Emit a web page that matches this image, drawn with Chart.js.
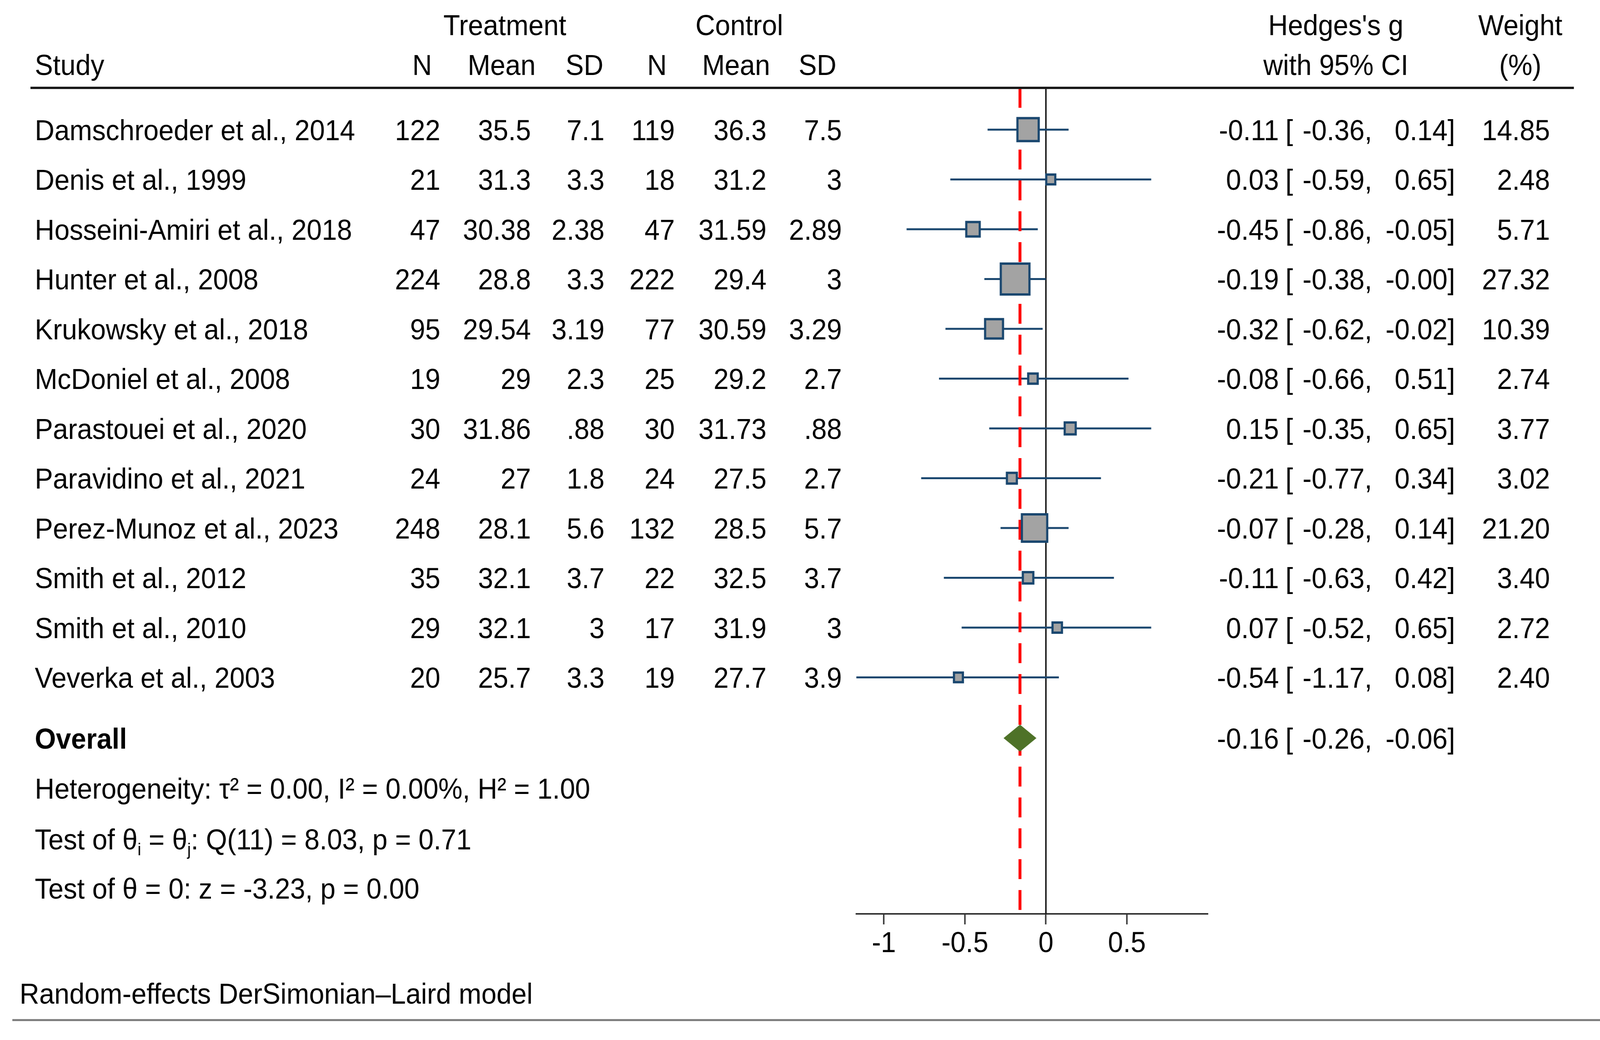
<!DOCTYPE html>
<html><head><meta charset="utf-8">
<script src="https://cdn.jsdelivr.net/npm/chart.js@4.4.1/dist/chart.umd.min.js"></script>
<style>html,body{margin:0;padding:0;background:#fff;overflow:hidden}canvas{display:block}</style>
</head><body>
<canvas id="c" width="4415" height="2663"></canvas>
<script>
// ---------- data ----------
const studies = ["Damschroeder et al., 2014","Denis et al., 1999","Hosseini-Amiri et al., 2018","Hunter et al., 2008",
  "Krukowsky et al., 2018","McDoniel et al., 2008","Parastouei et al., 2020","Paravidino et al., 2021",
  "Perez-Munoz et al., 2023","Smith et al., 2012","Smith et al., 2010","Veverka et al., 2003"];
const treatN    = [122, 21, 47, 224, 95, 19, 30, 24, 248, 35, 29, 20];
const treatMean = [35.5, 31.3, 30.38, 28.8, 29.54, 29, 31.86, 27, 28.1, 32.1, 32.1, 25.7];
const treatSD   = [7.1, 3.3, 2.38, 3.3, 3.19, 2.3, 0.88, 1.8, 5.6, 3.7, 3, 3.3];
const ctrlN     = [119, 18, 47, 222, 77, 25, 30, 24, 132, 22, 17, 19];
const ctrlMean  = [36.3, 31.2, 31.59, 29.4, 30.59, 29.2, 31.73, 27.5, 28.5, 32.5, 31.9, 27.7];
const ctrlSD    = [7.5, 3, 2.89, 3, 3.29, 2.7, 0.88, 2.7, 5.7, 3.7, 3, 3.9];
const hedgesG   = [-0.11, 0.03, -0.45, -0.19, -0.32, -0.08, 0.15, -0.21, -0.07, -0.11, 0.07, -0.54];
const ciLow     = [-0.36, -0.59, -0.86, -0.38, -0.62, -0.66, -0.35, -0.77, -0.28, -0.63, -0.52, -1.17];
const ciHigh    = [0.14, 0.65, -0.05, -0.00, -0.02, 0.51, 0.65, 0.34, 0.14, 0.42, 0.65, 0.08];
const weights   = [14.85, 2.48, 5.71, 27.32, 10.39, 2.74, 3.77, 3.02, 21.20, 3.40, 2.72, 2.40];
const overallG = -0.16, overallLow = -0.26, overallHigh = -0.06;
const xTicks = [-1, -0.5, 0, 0.5];
const xTickLabels = ["-1", "-0.5", "0", "0.5"];
const statLines = [
  [{t:"Heterogeneity: \u03C4\u00B2 = 0.00, I\u00B2 = 0.00%, H\u00B2 = 1.00"}],
  [{t:"Test of \u03B8"},{t:"i",sub:true},{t:" = \u03B8"},{t:"j",sub:true},{t:": Q(11) = 8.03, p = 0.71"}],
  [{t:"Test of \u03B8 = 0: z = -3.23, p = 0.00"}]
];
const footnote = "Random-effects DerSimonian\u2013Laird model";

// ---------- layout / style ----------
const W = 4415, H = 2663;
const FONT = '"Liberation Sans", Arial, Helvetica, sans-serif';
const FS = 75;
const NAVY = '#1a476f', BOXFILL = '#a3a3a3', GREEN = '#4e7228', RED = '#ff0000';
const ROW_OVERALL = 13.22, ROW_STATS = [14.22, 15.24, 16.23], ROW_FOOT = 18.34;
const ROW_H1 = -1.11, ROW_H2 = -0.31;
const Y_MIN = 0.161, Y_MAX = 16.749;

// display the fixed 4415x2663 drawing over the whole viewport
const cv = document.getElementById('c');
cv.style.width = (window.innerWidth || W) + 'px';
cv.style.height = (window.innerHeight || H) + 'px';

function fmt2(v){ return (v < 0 || Object.is(v, -0)) ? '-' + Math.abs(v).toFixed(2) : v.toFixed(2); }
function fmtNum(v){ return String(v).replace(/^0\./, '.'); }

const datasets = [];
// study markers
datasets.push({
  type: 'scatter', order: 0,
  data: hedgesG.map((v, i) => ({x: v, y: i + 1})),
  pointStyle: 'rect',
  pointRadius: weights.map(w => 1.2 + 10.47 * Math.sqrt(w)),
  pointHoverRadius: weights.map(w => 1.2 + 10.47 * Math.sqrt(w)),
  backgroundColor: BOXFILL, borderColor: NAVY, borderWidth: 6, pointBorderWidth: 6
});
// overall diamond
const dh = 0.267;
datasets.push({
  type: 'line', order: 1,
  data: [{x: overallLow, y: ROW_OVERALL}, {x: overallG, y: ROW_OVERALL - dh}, {x: overallHigh, y: ROW_OVERALL},
         {x: overallG, y: ROW_OVERALL + dh}, {x: overallLow, y: ROW_OVERALL}],
  borderColor: GREEN, backgroundColor: GREEN, borderWidth: 1, fill: 'shape', pointRadius: 0, tension: 0
});
// red dashed overall line
datasets.push({
  type: 'line', order: 2,
  data: [{x: overallG, y: Y_MIN}, {x: overallG, y: Y_MAX}],
  borderColor: RED, borderWidth: 8, borderDash: [51, 28], pointRadius: 0, fill: false
});
// CI lines
hedgesG.forEach((v, i) => {
  datasets.push({
    type: 'line', order: 3,
    data: [{x: ciLow[i], y: i + 1}, {x: ciHigh[i], y: i + 1}],
    borderColor: NAVY, borderWidth: 5, pointRadius: 0, fill: false
  });
});
// zero line
datasets.push({
  type: 'line', order: 4,
  data: [{x: 0, y: Y_MIN}, {x: 0, y: Y_MAX}],
  borderColor: '#111', borderWidth: 4, pointRadius: 0, fill: false
});

function drawRich(ctx, parts, x, y){
  let cx = x;
  parts.forEach(p => {
    if (p.sub) {
      ctx.font = `${Math.round(FS*0.6)}px ${FONT}`;
      ctx.fillText(p.t, cx, y + FS*0.2);
    } else {
      ctx.font = `${FS}px ${FONT}`;
      ctx.fillText(p.t, cx, y);
    }
    cx += ctx.measureText(p.t).width;
  });
}

const textPlugin = {
  id: 'forestText',
  afterDraw(chart){
    const ctx = chart.ctx, ys = chart.scales.y, area = chart.chartArea;
    const base = v => ys.getPixelForValue(v) + 27;
    ctx.save();
    ctx.fillStyle = '#000';
    ctx.textBaseline = 'alphabetic';
    const put = (s, x, y, align, bold) => { ctx.font = `${bold ? 'bold ' : ''}${FS}px ${FONT}`; ctx.textAlign = align; ctx.fillText(s, x, y); };
    // header
    put('Treatment', 1393, base(ROW_H1), 'center');
    put('Control', 2040, base(ROW_H1), 'center');
    put("Hedges's g", 3686, base(ROW_H1), 'center');
    put('Weight', 4195, base(ROW_H1), 'center');
    put('Study', 96, base(ROW_H2), 'left');
    const hdr = ['N','Mean','SD','N','Mean','SD'], hdrX = [1192,1478,1665,1840,2125,2308];
    hdr.forEach((h, k) => put(h, hdrX[k], base(ROW_H2), 'right'));
    put('with 95% CI', 3686, base(ROW_H2), 'center');
    put('(%)', 4195, base(ROW_H2), 'center');
    // header rule
    ctx.strokeStyle = '#1a1a1a'; ctx.lineWidth = 6;
    ctx.beginPath(); ctx.moveTo(84, area.top); ctx.lineTo(4343, area.top); ctx.stroke();
    // rows
    const colX = [1215,1465,1668,1862,2115,2323];
    studies.forEach((s, i) => {
      const y = base(i + 1);
      put(s, 96, y, 'left');
      const vals = [String(treatN[i]), fmtNum(treatMean[i]), fmtNum(treatSD[i]), String(ctrlN[i]), fmtNum(ctrlMean[i]), fmtNum(ctrlSD[i])];
      vals.forEach((v, k) => put(v, colX[k], y, 'right'));
      put(fmt2(hedgesG[i]), 3529, y, 'right');
      put('[', 3547, y, 'left');
      put(fmt2(ciLow[i]) + ',', 3786, y, 'right');
      put(fmt2(ciHigh[i]) + ']', 4015, y, 'right');
      put(weights[i].toFixed(2), 4277, y, 'right');
    });
    // overall
    const yo = base(ROW_OVERALL);
    put('Overall', 96, yo, 'left', true);
    put(fmt2(overallG), 3529, yo, 'right');
    put('[', 3547, yo, 'left');
    put(fmt2(overallLow) + ',', 3786, yo, 'right');
    put(fmt2(overallHigh) + ']', 4015, yo, 'right');
    // stats
    ctx.textAlign = 'left';
    statLines.forEach((parts, k) => drawRich(ctx, parts, 96, base(ROW_STATS[k])));
    // footnote
    put(footnote, 54, base(ROW_FOOT), 'left');
    ctx.strokeStyle = '#7a7a7a'; ctx.lineWidth = 5;
    ctx.beginPath(); ctx.moveTo(34, 2612); ctx.lineTo(4415, 2612); ctx.stroke();
    ctx.restore();
  }
};

Chart.defaults.font.family = FONT;
new Chart(cv.getContext('2d'), {
  type: 'scatter',
  data: { datasets },
  options: {
    responsive: false, animation: false, devicePixelRatio: 1,
    events: [],
    layout: { padding: { left: 2363, right: 1082, top: 225, bottom: 0 } },
    plugins: { legend: { display: false }, tooltip: { enabled: false } },
    scales: {
      x: {
        type: 'linear', min: -1.17, max: 1.0,
        afterBuildTicks: s => { s.ticks = xTicks.map(v => ({ value: v })); },
        afterFit: s => { s.height = 323; },
        grid: { drawOnChartArea: false, drawTicks: true, tickLength: 27, tickWidth: 4, tickColor: '#333' },
        border: { display: true, color: '#333', width: 4 },
        ticks: { font: { family: FONT, size: 75 }, color: '#000', padding: 5, maxRotation: 0,
                 callback: (v, i) => xTickLabels[i] }
      },
      y: { type: 'linear', reverse: true, min: Y_MIN, max: Y_MAX, display: false }
    }
  },
  plugins: [textPlugin]
});
</script>
</body></html>
